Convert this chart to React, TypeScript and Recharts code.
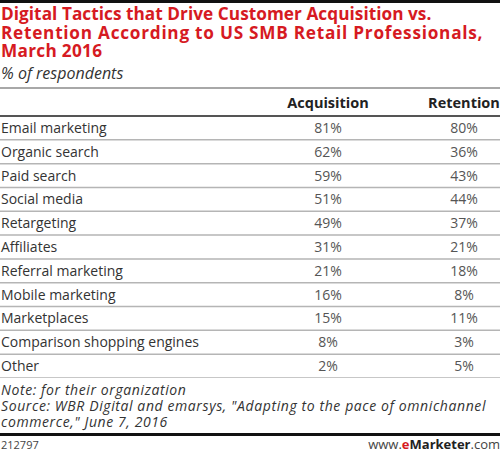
import React from 'react';
import { BarChart, Bar, XAxis, YAxis, LabelList } from 'recharts';

const TACTICS = [
  'Email marketing',
  'Organic search',
  'Paid search',
  'Social media',
  'Retargeting',
  'Affiliates',
  'Referral marketing',
  'Mobile marketing',
  'Marketplaces',
  'Comparison shopping engines',
  'Other',
];
const ACQUISITION = [81, 62, 59, 51, 49, 31, 21, 16, 15, 8, 2];
const RETENTION = [80, 36, 43, 44, 37, 21, 18, 8, 11, 3, 5];

const TITLE_LINES = [
  'Digital Tactics that Drive Customer Acquisition vs.',
  'Retention According to US SMB Retail Professionals,',
  'March 2016',
];
const TITLE_SPACING = [0.05, 0.75, 0.3];
const NOTE_LINES = [
  'Note: for their organization',
  'Source: WBR Digital and emarsys, "Adapting to the pace of omnichannel',
  'commerce," June 7, 2016',
];

const W = 500;
const TABLE_TOP = 116;
const TABLE_H = 262;
const BAND = TABLE_H / TACTICS.length;
const COL_ACQ = 328;
const COL_RET = 464;
const FONT = '"Open Sans", "DejaVu Sans", sans-serif';

const rows = TACTICS.map((tactic, i) => ({ tactic, acquisition: ACQUISITION[i], retention: RETENTION[i] }));

// libellé de ligne + filet sous la ligne
const RowTick = (props: any) => {
  const { y, payload } = props;
  return (
    <g>
      <text x={1} y={y} dy={5} fontSize={14} fill="#333" fontFamily={FONT} textAnchor="start">
        {payload.value}
      </text>
      <line x1={0} x2={W} y1={y + BAND / 2} y2={y + BAND / 2} stroke="#b5b5b5" strokeWidth={1.5} />
    </g>
  );
};

const cell = (cx: number) => (props: any) => {
  const { y, height, value } = props;
  return (
    <text x={cx} y={y + height / 2} dy={5} fontSize={14} fill="#555" fontFamily={FONT} textAnchor="middle">
      {`${value}%`}
    </text>
  );
};

export default function App() {
  return (
    <div style={{ position: 'absolute', left: 0, top: 0, width: W, height: 452, background: '#fff', fontFamily: FONT, overflow: 'hidden' }}>
      <div style={{ position: 'absolute', left: 0, top: 0, width: W, height: 3, background: '#111' }} />
      <div style={{ position: 'absolute', left: 1, top: 5, width: 499, color: '#d61a22', fontWeight: 700, fontSize: 17.2, lineHeight: '18.5px', whiteSpace: 'nowrap' }}>
        {TITLE_LINES.map((l, i) => (
          <div key={i} style={{ letterSpacing: TITLE_SPACING[i] }}>{l}</div>
        ))}
      </div>
      <div style={{ position: 'absolute', left: 1, top: 64, color: '#333', fontStyle: 'italic', fontSize: 16, lineHeight: '19px' }}>
        % of respondents
      </div>
      <div style={{ position: 'absolute', left: 0, top: 87, width: W, height: 2, background: '#a8a8a8' }} />
      <div style={{ position: 'absolute', left: COL_ACQ - 60, top: 94, width: 120, textAlign: 'center', fontWeight: 700, fontSize: 14.5, color: '#222', lineHeight: '18px' }}>
        Acquisition
      </div>
      <div style={{ position: 'absolute', left: COL_RET - 60, top: 94, width: 120, textAlign: 'center', fontWeight: 700, fontSize: 14.5, color: '#222', lineHeight: '18px' }}>
        Retention
      </div>
      <div style={{ position: 'absolute', left: 0, top: 115, width: W, height: 2, background: '#555' }} />
      <div style={{ position: 'absolute', left: 0, top: TABLE_TOP }}>
        <BarChart width={W} height={TABLE_H} data={rows} layout="vertical" margin={{ top: 0, right: 0, bottom: 0, left: 0 }}>
          <XAxis type="number" domain={[0, 200]} hide />
          <YAxis type="category" dataKey="tactic" width={250} axisLine={false} tickLine={false} tick={<RowTick />} interval={0} />
          <Bar dataKey="acquisition" stackId="t" fill="transparent" isAnimationActive={false}>
            <LabelList dataKey="acquisition" content={cell(COL_ACQ)} />
          </Bar>
          <Bar dataKey="retention" stackId="t" fill="transparent" isAnimationActive={false}>
            <LabelList dataKey="retention" content={cell(COL_RET)} />
          </Bar>
        </BarChart>
      </div>
      <div style={{ position: 'absolute', left: 1, top: 382, width: 499, color: '#333', fontStyle: 'italic', fontSize: 14, lineHeight: '16px', letterSpacing: 0.6, whiteSpace: 'nowrap' }}>
        {NOTE_LINES.map((l, i) => (
          <div key={i}>{l}</div>
        ))}
      </div>
      <div style={{ position: 'absolute', left: 0, top: 433, width: W, height: 3, background: '#111' }} />
      <div style={{ position: 'absolute', left: 1, top: 438, fontSize: 11, color: '#444', lineHeight: '14px' }}>212797</div>
      <div style={{ position: 'absolute', right: 0, top: 437, fontSize: 13, color: '#444', lineHeight: '15px' }}>
        www.<span style={{ color: '#d61a22', fontWeight: 700 }}>e</span><span style={{ fontWeight: 700, color: '#222' }}>Marketer</span>.com
      </div>
    </div>
  );
}
